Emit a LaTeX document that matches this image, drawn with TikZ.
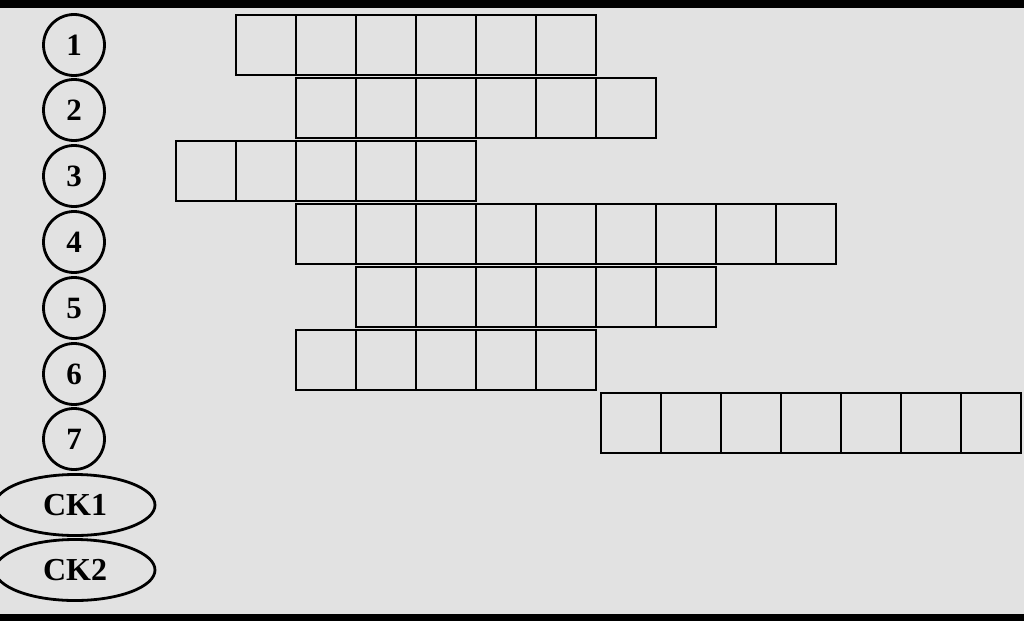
\documentclass[tikz,border=0pt]{standalone}
\usepackage{fontspec}
\setmainfont{Liberation Serif}
\usetikzlibrary{shapes.geometric}
\definecolor{bggray}{RGB}{226,226,226}
\begin{document}
\begin{tikzpicture}[x=1pt,y=-1pt,inner sep=0pt,outer sep=0pt,
jobcirc/.style={draw,circle,minimum size=61pt,line width=2.8pt,font=\fontsize{31}{31}\selectfont\bfseries},
ckell/.style={draw,ellipse,minimum width=160pt,minimum height=61pt,line width=2.8pt,font=\fontsize{32}{32}\selectfont\bfseries},
cell/.style={draw,rectangle,minimum size=60pt,line width=1.8pt,anchor=north west}]

% background and frame bars
\fill[bggray] (0,0) rectangle (1024,621);
\useasboundingbox (0,0) rectangle (1024,621);
\fill[black] (0,0) rectangle (1024,8);
\fill[black] (0,614) rectangle (1024,621);

% job labels
\node[jobcirc] (j1) at (74,45) {1};
\node[jobcirc] (j2) at (74,110) {2};
\node[jobcirc] (j3) at (74,176) {3};
\node[jobcirc] (j4) at (74,242) {4};
\node[jobcirc] (j5) at (74,308) {5};
\node[jobcirc] (j6) at (74,374) {6};
\node[jobcirc] (j7) at (74,439) {7};
\node[ckell] (ck1) at (75,505) {CK1};
\node[ckell] (ck2) at (75,570) {CK2};

% rows of cells
\foreach \row/\xs/\ys/\n in {1/236/15/6,2/296/78/6,3/176/141/5,4/296/204/9,5/356/267/6,6/296/330/5,7/601/393/7}
  \foreach \c in {1,...,\n}
    \node[cell] (r\row c\c) at ({\xs+60*(\c-1)},\ys) {};
\end{tikzpicture}
\end{document}
